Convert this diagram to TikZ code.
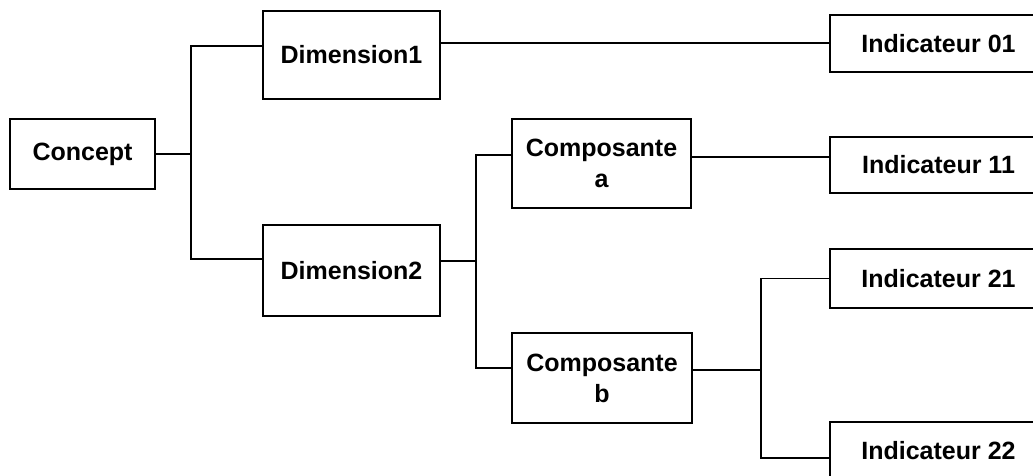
\documentclass[tikz,border=0pt]{standalone}
\usepackage{fontspec}
\setmainfont{Liberation Sans}
\begin{document}
\begin{tikzpicture}[x=1pt,y=-1pt,
  box/.style={draw=black, line width=1.6pt, rectangle, inner sep=0pt, fill=white,
    font=\bfseries\fontsize{25}{31}\selectfont, align=center},
  conn/.style={draw=black, line width=1.3pt}]
\useasboundingbox (0,0) rectangle (1033,476);
\clip (0,0) rectangle (1033,476);
% boxes
\node[box, minimum width=145pt, minimum height=70pt] (concept) at (82.5,154) {Concept};
\node[box, minimum width=177pt, minimum height=88pt] (dim1) at (351.5,55) {Dimension1};
\node[box, minimum width=177pt, minimum height=91pt] (dim2) at (351.5,270.5) {Dimension2};
\node[box, minimum width=179pt, minimum height=89pt] (compa) at (601.5,163.5) {Composante\\a};
\node[box, minimum width=180pt, minimum height=90pt] (compb) at (602,378) {Composante\\b};
\node[box, minimum width=217pt, minimum height=57pt] (ind01) at (938.5,43.5) {Indicateur 01};
\node[box, minimum width=217pt, minimum height=56pt] (ind11) at (938.5,165) {Indicateur 11};
\node[box, minimum width=217pt, minimum height=59pt] (ind21) at (938.5,278.5) {Indicateur 21};
\node[box, minimum width=217pt, minimum height=57pt] (ind22) at (938.5,450.5) {Indicateur 22};
% junctions
\coordinate (j1) at (191,154);
\coordinate (j2) at (476,261);
\coordinate (j3) at (761,370);
% connectors
\draw[conn] (concept.east) -- (j1);
\draw[conn] ([yshift=9pt]dim1.west) -| (j1) |- ([yshift=11.5pt]dim2.west);
\draw[conn] ([yshift=12pt]dim1.east) -- ([yshift=12pt]dim1.east -| ind01.west);
\draw[conn] ([yshift=9.5pt]dim2.east) -- (j2);
\draw[conn] ([yshift=8.5pt]compa.west) -| (j2) |- ([yshift=10pt]compb.west);
\draw[conn] ([yshift=6.5pt]compa.east) -- ([yshift=6.5pt]compa.east -| ind11.west);
\draw[conn] ([yshift=8pt]compb.east) -- (j3);
\draw[conn] (ind21.west) -| (j3) |- ([yshift=-7.5pt]ind22.west);
\end{tikzpicture}
\end{document}
